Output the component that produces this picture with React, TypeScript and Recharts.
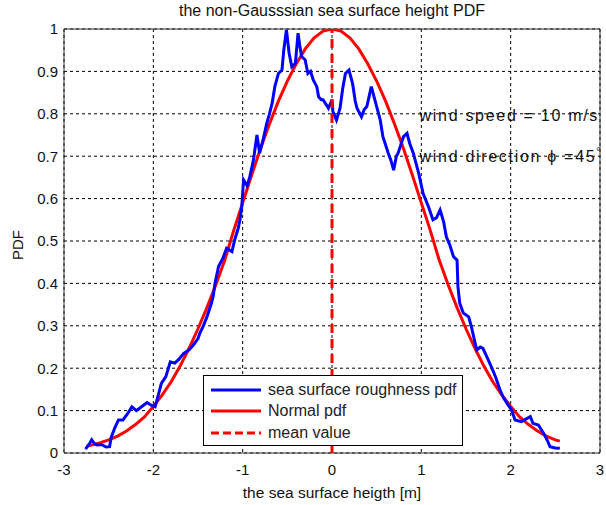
import React from 'react';
import {
  LineChart, Line, XAxis, YAxis, CartesianGrid, ReferenceLine, ReferenceArea, ReferenceDot, Legend,
} from 'recharts';

const xTicks = [-3, -2, -1, 0, 1, 2, 3];
const yTicks = [0, 0.1, 0.2, 0.3, 0.4, 0.5, 0.6, 0.7, 0.8, 0.9, 1];

const roughX = [-2.76, -2.72, -2.69, -2.66, -2.63, -2.58, -2.53, -2.49, -2.47, -2.43, -2.39, -2.34, -2.29, -2.24, -2.19, -2.14, -2.07, -2.02, -1.98, -1.94, -1.91, -1.86, -1.81, -1.76, -1.71, -1.66, -1.6, -1.55, -1.5, -1.48, -1.44, -1.4, -1.35, -1.33, -1.31, -1.27, -1.22, -1.18, -1.12, -1.09, -1.05, -1.03, -1.01, -0.99, -0.95, -0.92, -0.88, -0.84, -0.81, -0.77, -0.73, -0.7, -0.67, -0.64, -0.6, -0.56, -0.54, -0.51, -0.48, -0.45, -0.41, -0.38, -0.36, -0.34, -0.3, -0.27, -0.24, -0.21, -0.17, -0.15, -0.12, -0.1, -0.06, -0.04, 0.0, 0.01, 0.05, 0.09, 0.12, 0.15, 0.19, 0.23, 0.26, 0.28, 0.33, 0.36, 0.39, 0.44, 0.48, 0.54, 0.57, 0.63, 0.66, 0.69, 0.72, 0.74, 0.8, 0.84, 0.87, 0.91, 0.97, 1.02, 1.08, 1.13, 1.17, 1.21, 1.25, 1.28, 1.32, 1.36, 1.4, 1.41, 1.43, 1.47, 1.53, 1.56, 1.62, 1.66, 1.69, 1.75, 1.79, 1.83, 1.88, 1.92, 1.96, 2.01, 2.05, 2.12, 2.17, 2.22, 2.25, 2.31, 2.37, 2.41, 2.44, 2.5, 2.55];
const roughY = [0.009, 0.02, 0.031, 0.022, 0.019, 0.02, 0.014, 0.015, 0.038, 0.06, 0.078, 0.078, 0.092, 0.109, 0.1, 0.108, 0.119, 0.112, 0.109, 0.14, 0.164, 0.18, 0.215, 0.212, 0.222, 0.235, 0.243, 0.255, 0.27, 0.282, 0.3, 0.321, 0.353, 0.37, 0.4, 0.44, 0.46, 0.483, 0.475, 0.502, 0.53, 0.55, 0.581, 0.644, 0.63, 0.652, 0.69, 0.75, 0.707, 0.74, 0.778, 0.8, 0.825, 0.864, 0.895, 0.903, 0.95, 0.998, 0.943, 0.911, 0.919, 0.99, 0.96, 0.935, 0.927, 0.895, 0.9, 0.88, 0.864, 0.84, 0.833, 0.833, 0.82, 0.813, 0.833, 0.805, 0.785, 0.813, 0.86, 0.895, 0.903, 0.872, 0.83, 0.813, 0.793, 0.81, 0.817, 0.864, 0.833, 0.785, 0.746, 0.707, 0.69, 0.667, 0.7, 0.707, 0.746, 0.754, 0.73, 0.707, 0.66, 0.612, 0.581, 0.55, 0.555, 0.573, 0.545, 0.51, 0.49, 0.463, 0.455, 0.392, 0.353, 0.33, 0.321, 0.298, 0.243, 0.25, 0.247, 0.219, 0.2, 0.18, 0.149, 0.13, 0.117, 0.101, 0.078, 0.074, 0.08, 0.086, 0.07, 0.066, 0.046, 0.03, 0.015, 0.012, 0.011];

const normalX = [-2.75, -2.7, -2.6, -2.5, -2.4, -2.3, -2.2, -2.1, -2.0, -1.9, -1.8, -1.7, -1.6, -1.5, -1.4, -1.3, -1.2, -1.1, -1.0, -0.9, -0.8, -0.7, -0.6, -0.5, -0.4, -0.3, -0.2, -0.1, 0, 0.1, 0.2, 0.3, 0.4, 0.5, 0.6, 0.7, 0.8, 0.9, 1.0, 1.1, 1.2, 1.3, 1.4, 1.5, 1.6, 1.7, 1.8, 1.9, 2.0, 2.1, 2.2, 2.3, 2.4, 2.5, 2.55];
const normalY = [0.016, 0.018, 0.024, 0.031, 0.04, 0.052, 0.067, 0.085, 0.11, 0.137, 0.168, 0.205, 0.247, 0.293, 0.343, 0.397, 0.455, 0.525, 0.59, 0.655, 0.718, 0.776, 0.83, 0.877, 0.918, 0.953, 0.979, 0.995, 1.0, 0.995, 0.979, 0.953, 0.918, 0.877, 0.83, 0.776, 0.718, 0.655, 0.59, 0.525, 0.455, 0.397, 0.343, 0.293, 0.247, 0.205, 0.168, 0.137, 0.11, 0.085, 0.067, 0.052, 0.04, 0.031, 0.028];

const meanValue = 0;
const seriesNames = ['sea surface roughness pdf', 'Normal pdf', 'mean value'];
const titleText = 'the non-Gausssian sea surface height PDF';
const xLabel = 'the sea surface heigth [m]';
const yLabel = 'PDF';
const note1 = 'wind speed = 10 m/s';
const note2 = 'wind direction \u03d5 =45';

const roughData = roughX.map((x, i) => ({ x, y: roughY[i] }));
const normalData = normalX.map((x, i) => ({ x, y: normalY[i] }));

const FONT = '"Liberation Sans", Arial, sans-serif';
const BLUE = '#0000ff';
const RED = '#ff0000';
const INK = '#111';

const LegendBox = () => (
  <div style={{
    position: 'absolute', left: 0, top: 0,
    border: '1px solid #000', background: '#fff', width: 258, height: 69,
    fontFamily: FONT, fontSize: 16, color: '#222', boxSizing: 'content-box',
  }}>
    {[{ c: BLUE, d: undefined }, { c: RED, d: undefined }, { c: RED, d: '8 4' }].map((e, i) => (
      <div key={i} style={{ display: 'flex', alignItems: 'center', height: 21.5, lineHeight: '18px', marginTop: i === 0 ? 3 : 0, whiteSpace: 'nowrap' }}>
        <svg width={64} height={10} style={{ display: 'block', flex: 'none' }}>
          <line x1={7} x2={57} y1={5} y2={5} stroke={e.c} strokeWidth={3} strokeDasharray={e.d} />
        </svg>
        <span>{seriesNames[i]}</span>
      </div>
    ))}
  </div>
);

const NoteLabel = (text: string, deg: boolean) => (props: any) => {
  const vb = props.viewBox || {};
  const x = (vb.x ?? 0) + (vb.width ?? 0) / 2;
  const y = (vb.y ?? 0) + (vb.height ?? 0) / 2;
  return (
    <text x={x} y={y} dy={5.5} fontFamily={FONT} fontSize={16} letterSpacing={1.7} fill={INK} textAnchor="start">
      {text}
      {deg ? <tspan dy={-7} fontSize={10} letterSpacing={0}>{'\u00b0'}</tspan> : null}
    </text>
  );
};

const YLabel = (props: any) => {
  const vb = props.viewBox || {};
  const cy = (vb.y ?? 0) + (vb.height ?? 0) / 2 + 4;
  return (
    <text x={18} y={cy} transform={`rotate(-90 18 ${cy})`} dy={5} textAnchor="middle" fontFamily={FONT} fontSize={15} fill={INK}>
      {yLabel}
    </text>
  );
};

export default function App() {
  return (
    <div style={{ position: 'absolute', left: 0, top: 0, width: 606, height: 505, background: '#fff' }}>
      <div style={{
        position: 'absolute', left: 64, width: 536, top: 2, textAlign: 'center',
        fontFamily: FONT, fontSize: 16, lineHeight: '18px', color: INK,
      }}>{titleText}</div>
      <LineChart width={606} height={505} margin={{ top: 29, right: 6, bottom: 0, left: 0 }}>
        <CartesianGrid stroke="#000" strokeDasharray="3 3" strokeWidth={1} />
        <ReferenceArea x1={-3} x2={3} y1={0} y2={1} fill="none" stroke="#333" strokeWidth={1} ifOverflow="visible" />
        <XAxis
          dataKey="x" type="number" domain={[-3, 3]} ticks={xTicks} allowDataOverflow
          height={52} axisLine={false} tickLine={false} tickMargin={5}
          tick={{ fontFamily: FONT, fontSize: 15, fill: INK }}
          label={{ value: xLabel, position: 'insideBottom', offset: 7, style: { fontFamily: FONT, fontSize: 15.5, fill: INK } }}
        />
        <YAxis
          type="number" domain={[0, 1]} ticks={yTicks} allowDataOverflow width={64}
          axisLine={false} tickLine={false} tickMargin={0}
          tick={{ fontFamily: FONT, fontSize: 15, fill: INK }}
          label={<YLabel />}
        />
        <Line data={normalData} dataKey="y" stroke={RED} strokeWidth={3} dot={false} isAnimationActive={false} type="linear" />
        <Line data={roughData} dataKey="y" stroke={BLUE} strokeWidth={3} dot={false} isAnimationActive={false} type="linear" />
        <ReferenceLine x={meanValue} stroke={RED} strokeWidth={3} strokeDasharray="9 6" />
        <ReferenceDot x={0.98} y={0.797} r={0} fill="none" stroke="none" label={NoteLabel(note1, false)} />
        <ReferenceDot x={0.98} y={0.7} r={0} fill="none" stroke="none" label={NoteLabel(note2, true)} />
        <Legend content={() => <LegendBox />} wrapperStyle={{ position: 'absolute', left: 203, top: 375, width: 0, height: 0, bottom: 'auto', overflow: 'visible' }} />
      </LineChart>
    </div>
  );
}
